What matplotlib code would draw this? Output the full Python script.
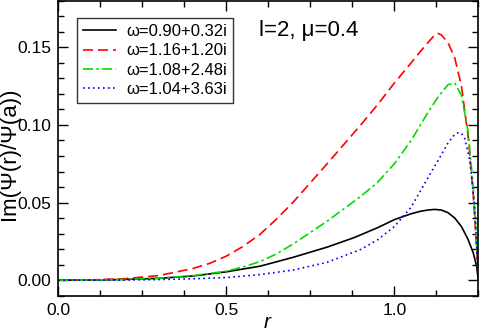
import numpy as np
import matplotlib
matplotlib.use('Agg')
import matplotlib.pyplot as plt
from matplotlib.ticker import MultipleLocator, FormatStrFormatter

plt.rcParams['font.family'] = ['Liberation Sans', 'DejaVu Sans']
plt.rcParams['mathtext.fontset'] = 'custom'
plt.rcParams['mathtext.it'] = 'Liberation Sans:italic'

# values
r_black = [0, 0.1, 0.2, 0.3, 0.4, 0.5, 0.6, 0.7, 0.8, 0.88, 0.95, 1.0, 1.05,
           1.08, 1.1, 1.12, 1.14, 1.16, 1.18, 1.2, 1.22, 1.235, 1.245, 1.25]
v_black = [0, 0.0001, 0.0005, 0.0012, 0.0027, 0.0054, 0.009, 0.0148, 0.0213,
           0.0274, 0.0338, 0.039, 0.0428, 0.0445, 0.0452, 0.0456, 0.0452,
           0.0435, 0.040, 0.0345, 0.026, 0.0175, 0.009, 0.0]

r_red = [0, 0.1, 0.2, 0.3, 0.4, 0.45, 0.5, 0.55, 0.6, 0.65, 0.7, 0.8, 0.9,
         0.95, 1.0, 1.05, 1.08, 1.1, 1.12, 1.13, 1.14, 1.16, 1.18, 1.2, 1.22,
         1.235, 1.245, 1.25]
v_red = [0, 0.0002, 0.001, 0.003, 0.0075, 0.0108, 0.0155, 0.0218, 0.0295,
         0.0395, 0.0505, 0.075, 0.1, 0.113, 0.127, 0.14, 0.148, 0.153, 0.158,
         0.159, 0.158, 0.153, 0.143, 0.125, 0.092, 0.055, 0.02, 0.0]

r_green = [0, 0.1, 0.2, 0.3, 0.4, 0.5, 0.55, 0.6, 0.65, 0.7, 0.8, 0.9, 0.95,
           1.0, 1.05, 1.1, 1.13, 1.16, 1.18, 1.2, 1.22, 1.235, 1.245, 1.25]
v_green = [0, 0.0001, 0.0005, 0.0013, 0.0029, 0.0058, 0.0085, 0.012, 0.017,
           0.0235, 0.038, 0.054, 0.063, 0.075, 0.09, 0.108, 0.118, 0.126,
           0.127, 0.119, 0.095, 0.06, 0.025, 0.0]

r_blue = [0, 0.1, 0.2, 0.3, 0.4, 0.5, 0.6, 0.7, 0.8, 0.9, 0.95, 1.0, 1.05,
          1.1, 1.13, 1.16, 1.18, 1.19, 1.2, 1.21, 1.225, 1.24, 1.25]
v_blue = [0, 0.0, 0.0001, 0.0004, 0.0009, 0.0017, 0.0036, 0.0066, 0.0115,
          0.0198, 0.026, 0.0345, 0.047, 0.066, 0.077, 0.0885, 0.094, 0.095,
          0.0945, 0.091, 0.077, 0.045, 0.0]

labels = [u'\u03c9=0.90+0.32i', u'\u03c9=1.16+1.20i',
          u'\u03c9=1.08+2.48i', u'\u03c9=1.04+3.63i']

fig = plt.figure(figsize=(4.8, 3.31), dpi=100)
ax = fig.add_axes([0.1215, 0.1066, 0.875, 0.891])

ax.plot(r_black, v_black, color='black', lw=1.2, label=labels[0])
ax.plot(r_red, v_red, color='red', lw=1.2, dashes=(6, 3), label=labels[1])
ax.plot(r_green, v_green, color='#00dd00', lw=1.2, dashes=(6, 2, 1.5, 2),
        label=labels[2])
ax.plot(r_blue, v_blue, color='blue', lw=1.2, dashes=(1, 2), label=labels[3])

ax.set_xlim(0, 1.25)
ax.set_ylim(-0.01, 0.18)
ax.xaxis.set_major_locator(MultipleLocator(0.5))
ax.xaxis.set_minor_locator(MultipleLocator(0.125))
ax.yaxis.set_major_locator(MultipleLocator(0.05))
ax.yaxis.set_minor_locator(MultipleLocator(0.01))
ax.xaxis.set_major_formatter(FormatStrFormatter('%.1f'))
ax.yaxis.set_major_formatter(FormatStrFormatter('%.2f'))
ax.tick_params(which='both', direction='in', top=True, right=True,
               labelsize=12.5, width=1.0)
ax.tick_params(which='major', length=7, pad=5)
ax.tick_params(which='minor', length=4)
for s in ax.spines.values():
    s.set_linewidth(1.2)

ax.set_xlabel('$r$', fontsize=15)
ax.xaxis.set_label_coords(0.5, -0.06)
ax.set_ylabel(u'Im(\u03a8(r)/\u03a8(a))', fontsize=16)
ax.yaxis.set_label_coords(-0.092, 0.48)

ax.text(0.597, 0.1606, u'l=2, \u03bc=0.4', fontsize=16, va='center')

leg = ax.legend(loc='upper left', bbox_to_anchor=(0.045, 0.94), fontsize=12,
                frameon=True, fancybox=False, handlelength=2.0,
                handletextpad=0.6, labelspacing=0.25, borderpad=0.35,
                borderaxespad=0)
leg.get_frame().set_edgecolor('black')
leg.get_frame().set_linewidth(1.0)

fig.savefig('out.png', dpi=100)
